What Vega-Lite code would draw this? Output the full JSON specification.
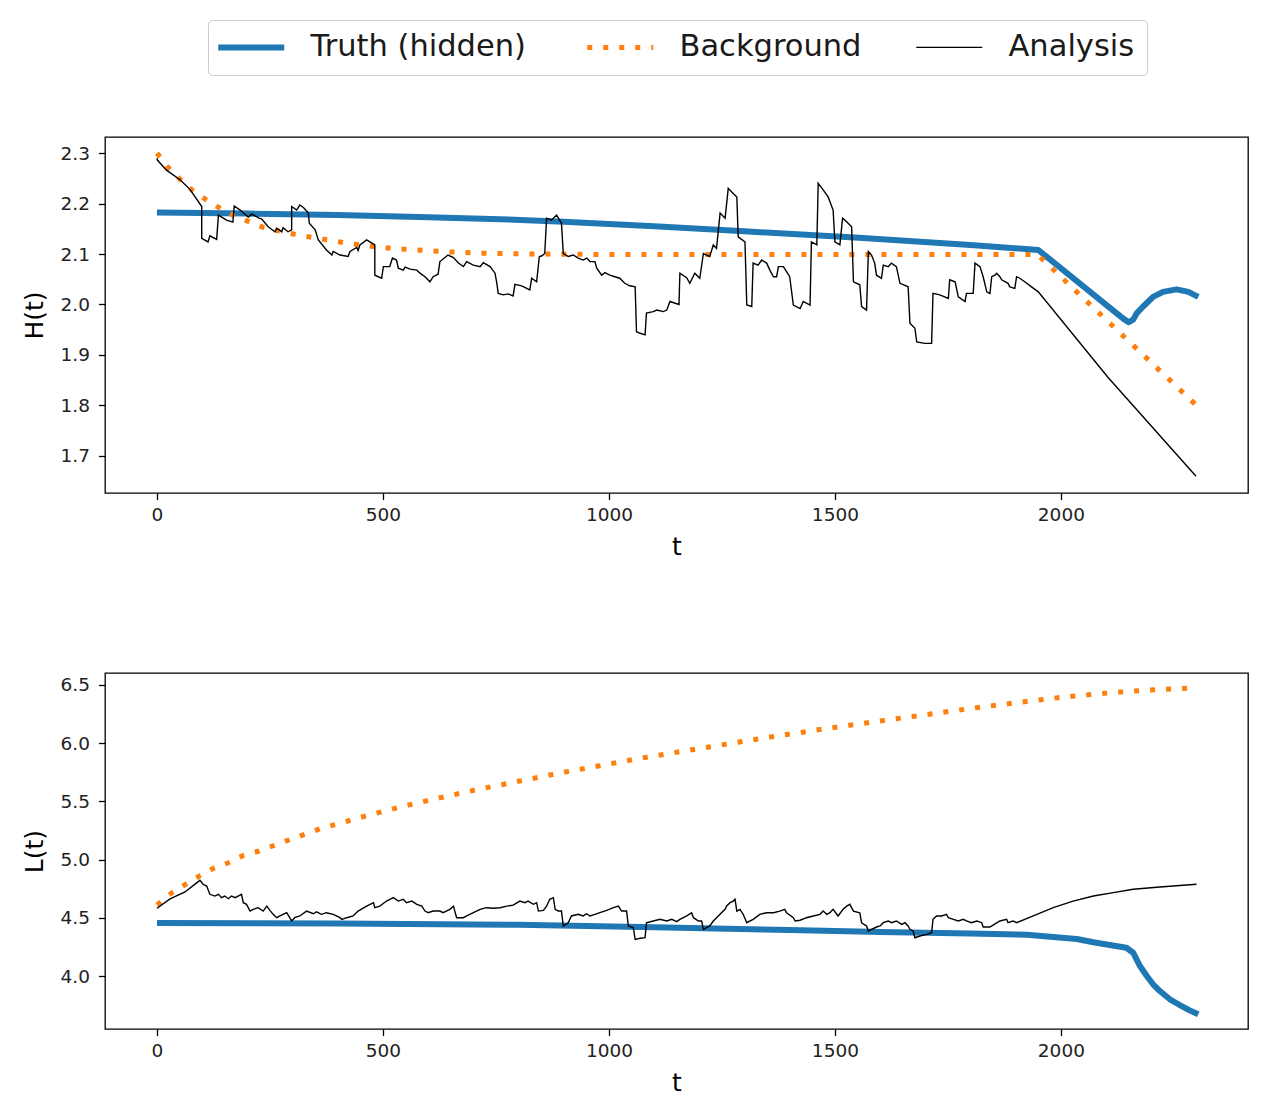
{
  "$schema": "https://vega.github.io/schema/vega-lite/v6.json",
  "background": "white",
  "padding": {"left": 22, "top": 19, "right": 10, "bottom": 10},
  "datasets": {
    "H_T": [
      {"s":"T","t":0,"v":2.182},{"s":"T","t":200,"v":2.18},{"s":"T","t":400,"v":2.177},{"s":"T","t":600,"v":2.173},{"s":"T","t":760,"v":2.169},{"s":"T","t":900,"v":2.164},{"s":"T","t":1100,"v":2.155},{"s":"T","t":1300,"v":2.145},{"s":"T","t":1553,"v":2.132},{"s":"T","t":1800,"v":2.118},{"s":"T","t":1950,"v":2.108},{"s":"T","t":2138,"v":1.972},{"s":"T","t":2150,"v":1.965},{"s":"T","t":2160,"v":1.97},{"s":"T","t":2168,"v":1.983},{"s":"T","t":2182,"v":1.996},{"s":"T","t":2204,"v":2.015},{"s":"T","t":2226,"v":2.025},{"s":"T","t":2256,"v":2.03},{"s":"T","t":2282,"v":2.025},{"s":"T","t":2304,"v":2.015}
    ],
    "H_B": [
      {"s":"B","t":0,"v":2.3},{"s":"B","t":24,"v":2.272},{"s":"B","t":51,"v":2.248},{"s":"B","t":77,"v":2.227},{"s":"B","t":106,"v":2.209},{"s":"B","t":135,"v":2.193},{"s":"B","t":168,"v":2.177},{"s":"B","t":201,"v":2.165},{"s":"B","t":235,"v":2.153},{"s":"B","t":268,"v":2.146},{"s":"B","t":305,"v":2.139},{"s":"B","t":343,"v":2.133},{"s":"B","t":378,"v":2.128},{"s":"B","t":416,"v":2.122},{"s":"B","t":449,"v":2.118},{"s":"B","t":487,"v":2.114},{"s":"B","t":522,"v":2.111},{"s":"B","t":555,"v":2.109},{"s":"B","t":650,"v":2.104},{"s":"B","t":737,"v":2.101},{"s":"B","t":850,"v":2.1},{"s":"B","t":1000,"v":2.099},{"s":"B","t":1948,"v":2.099},{"s":"B","t":2299,"v":1.801}
    ],
    "H_A": [
      {"s":"A","t":0,"v":2.29},{"s":"A","t":1,"v":2.286},{"s":"A","t":21,"v":2.266},{"s":"A","t":51,"v":2.247},{"s":"A","t":73,"v":2.228},{"s":"A","t":99,"v":2.194},{"s":"A","t":99,"v":2.131},{"s":"A","t":113,"v":2.124},{"s":"A","t":117,"v":2.136},{"s":"A","t":132,"v":2.129},{"s":"A","t":136,"v":2.177},{"s":"A","t":154,"v":2.167},{"s":"A","t":168,"v":2.163},{"s":"A","t":171,"v":2.195},{"s":"A","t":184,"v":2.187},{"s":"A","t":202,"v":2.173},{"s":"A","t":210,"v":2.179},{"s":"A","t":226,"v":2.171},{"s":"A","t":232,"v":2.169},{"s":"A","t":246,"v":2.154},{"s":"A","t":261,"v":2.144},{"s":"A","t":265,"v":2.151},{"s":"A","t":276,"v":2.144},{"s":"A","t":279,"v":2.152},{"s":"A","t":290,"v":2.144},{"s":"A","t":298,"v":2.148},{"s":"A","t":298,"v":2.194},{"s":"A","t":309,"v":2.187},{"s":"A","t":316,"v":2.197},{"s":"A","t":324,"v":2.192},{"s":"A","t":335,"v":2.181},{"s":"A","t":337,"v":2.161},{"s":"A","t":350,"v":2.148},{"s":"A","t":357,"v":2.128},{"s":"A","t":375,"v":2.108},{"s":"A","t":387,"v":2.098},{"s":"A","t":390,"v":2.105},{"s":"A","t":405,"v":2.098},{"s":"A","t":423,"v":2.095},{"s":"A","t":427,"v":2.105},{"s":"A","t":442,"v":2.113},{"s":"A","t":445,"v":2.107},{"s":"A","t":449,"v":2.118},{"s":"A","t":464,"v":2.128},{"s":"A","t":471,"v":2.124},{"s":"A","t":482,"v":2.118},{"s":"A","t":482,"v":2.058},{"s":"A","t":497,"v":2.052},{"s":"A","t":501,"v":2.075},{"s":"A","t":515,"v":2.075},{"s":"A","t":521,"v":2.092},{"s":"A","t":530,"v":2.088},{"s":"A","t":534,"v":2.072},{"s":"A","t":545,"v":2.068},{"s":"A","t":549,"v":2.074},{"s":"A","t":560,"v":2.07},{"s":"A","t":575,"v":2.068},{"s":"A","t":582,"v":2.062},{"s":"A","t":593,"v":2.055},{"s":"A","t":604,"v":2.045},{"s":"A","t":611,"v":2.055},{"s":"A","t":622,"v":2.06},{"s":"A","t":626,"v":2.085},{"s":"A","t":633,"v":2.09},{"s":"A","t":644,"v":2.098},{"s":"A","t":656,"v":2.093},{"s":"A","t":667,"v":2.082},{"s":"A","t":678,"v":2.075},{"s":"A","t":685,"v":2.085},{"s":"A","t":700,"v":2.078},{"s":"A","t":715,"v":2.075},{"s":"A","t":722,"v":2.083},{"s":"A","t":737,"v":2.075},{"s":"A","t":748,"v":2.062},{"s":"A","t":752,"v":2.042},{"s":"A","t":755,"v":2.022},{"s":"A","t":766,"v":2.019},{"s":"A","t":777,"v":2.021},{"s":"A","t":788,"v":2.017},{"s":"A","t":792,"v":2.04},{"s":"A","t":807,"v":2.037},{"s":"A","t":825,"v":2.029},{"s":"A","t":829,"v":2.052},{"s":"A","t":840,"v":2.045},{"s":"A","t":846,"v":2.095},{"s":"A","t":851,"v":2.096},{"s":"A","t":858,"v":2.101},{"s":"A","t":862,"v":2.171},{"s":"A","t":873,"v":2.167},{"s":"A","t":884,"v":2.177},{"s":"A","t":895,"v":2.161},{"s":"A","t":899,"v":2.101},{"s":"A","t":910,"v":2.095},{"s":"A","t":921,"v":2.098},{"s":"A","t":932,"v":2.092},{"s":"A","t":943,"v":2.088},{"s":"A","t":951,"v":2.092},{"s":"A","t":958,"v":2.085},{"s":"A","t":969,"v":2.085},{"s":"A","t":973,"v":2.072},{"s":"A","t":984,"v":2.058},{"s":"A","t":991,"v":2.063},{"s":"A","t":1002,"v":2.058},{"s":"A","t":1013,"v":2.055},{"s":"A","t":1024,"v":2.052},{"s":"A","t":1035,"v":2.042},{"s":"A","t":1046,"v":2.037},{"s":"A","t":1058,"v":2.035},{"s":"A","t":1061,"v":1.946},{"s":"A","t":1069,"v":1.943},{"s":"A","t":1080,"v":1.94},{"s":"A","t":1083,"v":1.983},{"s":"A","t":1098,"v":1.986},{"s":"A","t":1106,"v":1.989},{"s":"A","t":1120,"v":1.986},{"s":"A","t":1128,"v":1.989},{"s":"A","t":1135,"v":2.006},{"s":"A","t":1155,"v":2.0},{"s":"A","t":1157,"v":2.062},{"s":"A","t":1172,"v":2.053},{"s":"A","t":1179,"v":2.042},{"s":"A","t":1190,"v":2.062},{"s":"A","t":1201,"v":2.052},{"s":"A","t":1209,"v":2.101},{"s":"A","t":1223,"v":2.095},{"s":"A","t":1231,"v":2.118},{"s":"A","t":1238,"v":2.111},{"s":"A","t":1246,"v":2.181},{"s":"A","t":1257,"v":2.171},{"s":"A","t":1264,"v":2.23},{"s":"A","t":1275,"v":2.22},{"s":"A","t":1283,"v":2.213},{"s":"A","t":1286,"v":2.134},{"s":"A","t":1301,"v":2.124},{"s":"A","t":1305,"v":1.999},{"s":"A","t":1316,"v":1.996},{"s":"A","t":1319,"v":2.082},{"s":"A","t":1330,"v":2.078},{"s":"A","t":1338,"v":2.088},{"s":"A","t":1349,"v":2.082},{"s":"A","t":1356,"v":2.068},{"s":"A","t":1364,"v":2.055},{"s":"A","t":1371,"v":2.055},{"s":"A","t":1375,"v":2.075},{"s":"A","t":1386,"v":2.075},{"s":"A","t":1393,"v":2.065},{"s":"A","t":1400,"v":2.055},{"s":"A","t":1408,"v":1.999},{"s":"A","t":1423,"v":1.992},{"s":"A","t":1430,"v":2.006},{"s":"A","t":1445,"v":1.999},{"s":"A","t":1448,"v":2.124},{"s":"A","t":1460,"v":2.118},{"s":"A","t":1463,"v":2.24},{"s":"A","t":1474,"v":2.227},{"s":"A","t":1485,"v":2.213},{"s":"A","t":1496,"v":2.187},{"s":"A","t":1500,"v":2.124},{"s":"A","t":1511,"v":2.118},{"s":"A","t":1517,"v":2.171},{"s":"A","t":1526,"v":2.164},{"s":"A","t":1537,"v":2.154},{"s":"A","t":1541,"v":2.045},{"s":"A","t":1555,"v":2.039},{"s":"A","t":1559,"v":1.996},{"s":"A","t":1570,"v":1.989},{"s":"A","t":1574,"v":2.105},{"s":"A","t":1581,"v":2.098},{"s":"A","t":1588,"v":2.082},{"s":"A","t":1592,"v":2.058},{"s":"A","t":1603,"v":2.052},{"s":"A","t":1607,"v":2.078},{"s":"A","t":1618,"v":2.075},{"s":"A","t":1625,"v":2.082},{"s":"A","t":1636,"v":2.075},{"s":"A","t":1644,"v":2.042},{"s":"A","t":1662,"v":2.035},{"s":"A","t":1666,"v":1.963},{"s":"A","t":1677,"v":1.953},{"s":"A","t":1681,"v":1.926},{"s":"A","t":1699,"v":1.923},{"s":"A","t":1714,"v":1.923},{"s":"A","t":1717,"v":2.022},{"s":"A","t":1732,"v":2.019},{"s":"A","t":1751,"v":2.012},{"s":"A","t":1754,"v":2.049},{"s":"A","t":1766,"v":2.045},{"s":"A","t":1773,"v":2.015},{"s":"A","t":1788,"v":2.006},{"s":"A","t":1791,"v":2.022},{"s":"A","t":1806,"v":2.022},{"s":"A","t":1810,"v":2.082},{"s":"A","t":1821,"v":2.075},{"s":"A","t":1828,"v":2.055},{"s":"A","t":1836,"v":2.025},{"s":"A","t":1843,"v":2.022},{"s":"A","t":1847,"v":2.055},{"s":"A","t":1854,"v":2.058},{"s":"A","t":1858,"v":2.062},{"s":"A","t":1865,"v":2.055},{"s":"A","t":1869,"v":2.049},{"s":"A","t":1883,"v":2.042},{"s":"A","t":1887,"v":2.035},{"s":"A","t":1898,"v":2.032},{"s":"A","t":1902,"v":2.055},{"s":"A","t":1909,"v":2.052},{"s":"A","t":1920,"v":2.045},{"s":"A","t":1935,"v":2.035},{"s":"A","t":1950,"v":2.025},{"s":"A","t":2104,"v":1.856},{"s":"A","t":2299,"v":1.66}
    ],
    "L_T": [
      {"s":"T","t":0,"v":4.455},{"s":"T","t":400,"v":4.452},{"s":"T","t":800,"v":4.44},{"s":"T","t":1100,"v":4.42},{"s":"T","t":1400,"v":4.395},{"s":"T","t":1600,"v":4.378},{"s":"T","t":1800,"v":4.365},{"s":"T","t":1925,"v":4.355},{"s":"T","t":2035,"v":4.318},{"s":"T","t":2072,"v":4.29},{"s":"T","t":2108,"v":4.266},{"s":"T","t":2145,"v":4.243},{"s":"T","t":2160,"v":4.2},{"s":"T","t":2175,"v":4.086},{"s":"T","t":2190,"v":4.0},{"s":"T","t":2204,"v":3.929},{"s":"T","t":2219,"v":3.871},{"s":"T","t":2241,"v":3.8},{"s":"T","t":2263,"v":3.751},{"s":"T","t":2285,"v":3.705},{"s":"T","t":2304,"v":3.671}
    ],
    "L_B": [
      {"s":"B","t":0,"v":4.61},{"s":"B","t":33,"v":4.716},{"s":"B","t":63,"v":4.788},{"s":"B","t":94,"v":4.86},{"s":"B","t":125,"v":4.925},{"s":"B","t":158,"v":4.973},{"s":"B","t":191,"v":5.036},{"s":"B","t":226,"v":5.074},{"s":"B","t":280,"v":5.152},{"s":"B","t":361,"v":5.265},{"s":"B","t":450,"v":5.362},{"s":"B","t":538,"v":5.452},{"s":"B","t":620,"v":5.526},{"s":"B","t":711,"v":5.604},{"s":"B","t":800,"v":5.673},{"s":"B","t":888,"v":5.741},{"s":"B","t":980,"v":5.807},{"s":"B","t":1069,"v":5.87},{"s":"B","t":1170,"v":5.935},{"s":"B","t":1279,"v":6.004},{"s":"B","t":1365,"v":6.058},{"s":"B","t":1456,"v":6.111},{"s":"B","t":1546,"v":6.161},{"s":"B","t":1636,"v":6.21},{"s":"B","t":1725,"v":6.258},{"s":"B","t":1813,"v":6.305},{"s":"B","t":1904,"v":6.349},{"s":"B","t":1994,"v":6.391},{"s":"B","t":2066,"v":6.418},{"s":"B","t":2138,"v":6.442},{"s":"B","t":2210,"v":6.459},{"s":"B","t":2282,"v":6.472},{"s":"B","t":2300,"v":6.474}
    ],
    "L_A": [
      {"s":"A","t":0,"v":4.582},{"s":"A","t":29,"v":4.662},{"s":"A","t":62,"v":4.722},{"s":"A","t":95,"v":4.822},{"s":"A","t":102,"v":4.788},{"s":"A","t":110,"v":4.773},{"s":"A","t":117,"v":4.702},{"s":"A","t":128,"v":4.687},{"s":"A","t":136,"v":4.702},{"s":"A","t":143,"v":4.673},{"s":"A","t":150,"v":4.687},{"s":"A","t":158,"v":4.664},{"s":"A","t":165,"v":4.687},{"s":"A","t":173,"v":4.673},{"s":"A","t":187,"v":4.702},{"s":"A","t":191,"v":4.63},{"s":"A","t":198,"v":4.616},{"s":"A","t":206,"v":4.558},{"s":"A","t":213,"v":4.573},{"s":"A","t":224,"v":4.587},{"s":"A","t":235,"v":4.558},{"s":"A","t":243,"v":4.6},{"s":"A","t":250,"v":4.564},{"s":"A","t":257,"v":4.53},{"s":"A","t":265,"v":4.501},{"s":"A","t":272,"v":4.516},{"s":"A","t":287,"v":4.544},{"s":"A","t":298,"v":4.473},{"s":"A","t":305,"v":4.501},{"s":"A","t":316,"v":4.516},{"s":"A","t":331,"v":4.558},{"s":"A","t":346,"v":4.535},{"s":"A","t":353,"v":4.552},{"s":"A","t":364,"v":4.53},{"s":"A","t":375,"v":4.544},{"s":"A","t":390,"v":4.53},{"s":"A","t":405,"v":4.501},{"s":"A","t":409,"v":4.487},{"s":"A","t":420,"v":4.501},{"s":"A","t":434,"v":4.516},{"s":"A","t":445,"v":4.558},{"s":"A","t":464,"v":4.6},{"s":"A","t":479,"v":4.63},{"s":"A","t":482,"v":4.587},{"s":"A","t":493,"v":4.6},{"s":"A","t":508,"v":4.644},{"s":"A","t":523,"v":4.673},{"s":"A","t":534,"v":4.644},{"s":"A","t":545,"v":4.659},{"s":"A","t":552,"v":4.63},{"s":"A","t":564,"v":4.644},{"s":"A","t":575,"v":4.616},{"s":"A","t":586,"v":4.6},{"s":"A","t":593,"v":4.558},{"s":"A","t":600,"v":4.544},{"s":"A","t":611,"v":4.558},{"s":"A","t":626,"v":4.558},{"s":"A","t":633,"v":4.544},{"s":"A","t":648,"v":4.573},{"s":"A","t":656,"v":4.6},{"s":"A","t":663,"v":4.501},{"s":"A","t":678,"v":4.501},{"s":"A","t":685,"v":4.516},{"s":"A","t":700,"v":4.544},{"s":"A","t":715,"v":4.573},{"s":"A","t":729,"v":4.587},{"s":"A","t":744,"v":4.582},{"s":"A","t":759,"v":4.587},{"s":"A","t":774,"v":4.6},{"s":"A","t":788,"v":4.609},{"s":"A","t":803,"v":4.644},{"s":"A","t":814,"v":4.63},{"s":"A","t":821,"v":4.644},{"s":"A","t":833,"v":4.616},{"s":"A","t":840,"v":4.63},{"s":"A","t":844,"v":4.558},{"s":"A","t":855,"v":4.564},{"s":"A","t":862,"v":4.6},{"s":"A","t":869,"v":4.659},{"s":"A","t":877,"v":4.673},{"s":"A","t":881,"v":4.573},{"s":"A","t":888,"v":4.558},{"s":"A","t":895,"v":4.558},{"s":"A","t":899,"v":4.43},{"s":"A","t":910,"v":4.458},{"s":"A","t":917,"v":4.516},{"s":"A","t":932,"v":4.53},{"s":"A","t":943,"v":4.516},{"s":"A","t":951,"v":4.535},{"s":"A","t":958,"v":4.516},{"s":"A","t":969,"v":4.53},{"s":"A","t":980,"v":4.544},{"s":"A","t":995,"v":4.564},{"s":"A","t":1010,"v":4.587},{"s":"A","t":1021,"v":4.6},{"s":"A","t":1028,"v":4.558},{"s":"A","t":1039,"v":4.558},{"s":"A","t":1043,"v":4.43},{"s":"A","t":1054,"v":4.415},{"s":"A","t":1058,"v":4.315},{"s":"A","t":1069,"v":4.324},{"s":"A","t":1080,"v":4.329},{"s":"A","t":1083,"v":4.458},{"s":"A","t":1098,"v":4.473},{"s":"A","t":1113,"v":4.487},{"s":"A","t":1128,"v":4.473},{"s":"A","t":1139,"v":4.487},{"s":"A","t":1150,"v":4.467},{"s":"A","t":1157,"v":4.487},{"s":"A","t":1172,"v":4.516},{"s":"A","t":1183,"v":4.544},{"s":"A","t":1187,"v":4.501},{"s":"A","t":1198,"v":4.473},{"s":"A","t":1205,"v":4.473},{"s":"A","t":1209,"v":4.401},{"s":"A","t":1223,"v":4.43},{"s":"A","t":1231,"v":4.473},{"s":"A","t":1242,"v":4.516},{"s":"A","t":1249,"v":4.544},{"s":"A","t":1257,"v":4.573},{"s":"A","t":1260,"v":4.6},{"s":"A","t":1268,"v":4.63},{"s":"A","t":1275,"v":4.644},{"s":"A","t":1279,"v":4.659},{"s":"A","t":1283,"v":4.558},{"s":"A","t":1290,"v":4.573},{"s":"A","t":1297,"v":4.53},{"s":"A","t":1305,"v":4.458},{"s":"A","t":1319,"v":4.487},{"s":"A","t":1334,"v":4.53},{"s":"A","t":1349,"v":4.544},{"s":"A","t":1364,"v":4.544},{"s":"A","t":1378,"v":4.558},{"s":"A","t":1389,"v":4.573},{"s":"A","t":1393,"v":4.544},{"s":"A","t":1408,"v":4.501},{"s":"A","t":1412,"v":4.473},{"s":"A","t":1423,"v":4.479},{"s":"A","t":1437,"v":4.501},{"s":"A","t":1452,"v":4.516},{"s":"A","t":1467,"v":4.53},{"s":"A","t":1474,"v":4.558},{"s":"A","t":1482,"v":4.53},{"s":"A","t":1489,"v":4.544},{"s":"A","t":1496,"v":4.573},{"s":"A","t":1507,"v":4.516},{"s":"A","t":1518,"v":4.573},{"s":"A","t":1526,"v":4.6},{"s":"A","t":1533,"v":4.616},{"s":"A","t":1541,"v":4.558},{"s":"A","t":1555,"v":4.544},{"s":"A","t":1559,"v":4.458},{"s":"A","t":1570,"v":4.43},{"s":"A","t":1574,"v":4.387},{"s":"A","t":1592,"v":4.421},{"s":"A","t":1600,"v":4.43},{"s":"A","t":1607,"v":4.458},{"s":"A","t":1618,"v":4.473},{"s":"A","t":1625,"v":4.458},{"s":"A","t":1636,"v":4.473},{"s":"A","t":1648,"v":4.444},{"s":"A","t":1655,"v":4.458},{"s":"A","t":1662,"v":4.43},{"s":"A","t":1666,"v":4.401},{"s":"A","t":1673,"v":4.387},{"s":"A","t":1677,"v":4.329},{"s":"A","t":1688,"v":4.344},{"s":"A","t":1703,"v":4.358},{"s":"A","t":1714,"v":4.372},{"s":"A","t":1717,"v":4.487},{"s":"A","t":1725,"v":4.516},{"s":"A","t":1736,"v":4.516},{"s":"A","t":1747,"v":4.53},{"s":"A","t":1751,"v":4.501},{"s":"A","t":1762,"v":4.487},{"s":"A","t":1773,"v":4.473},{"s":"A","t":1784,"v":4.487},{"s":"A","t":1791,"v":4.473},{"s":"A","t":1802,"v":4.458},{"s":"A","t":1814,"v":4.473},{"s":"A","t":1825,"v":4.458},{"s":"A","t":1828,"v":4.421},{"s":"A","t":1843,"v":4.421},{"s":"A","t":1850,"v":4.438},{"s":"A","t":1865,"v":4.473},{"s":"A","t":1880,"v":4.487},{"s":"A","t":1883,"v":4.458},{"s":"A","t":1894,"v":4.473},{"s":"A","t":1902,"v":4.458},{"s":"A","t":1939,"v":4.516},{"s":"A","t":1983,"v":4.587},{"s":"A","t":2027,"v":4.644},{"s":"A","t":2072,"v":4.687},{"s":"A","t":2116,"v":4.716},{"s":"A","t":2160,"v":4.745},{"s":"A","t":2219,"v":4.765},{"s":"A","t":2300,"v":4.788}
    ]
  },
  "spacing": 112,
  "vconcat": [
    {
      "width": 1143,
      "height": 356,
      "encoding": {
        "x": {"field": "t", "type": "quantitative", "scale": {"domain": [-115, 2414], "nice": false, "zero": false}, "axis": {"values": [0, 500, 1000, 1500, 2000], "format": "d", "title": "t"}},
        "y": {"field": "v", "type": "quantitative", "scale": {"domain": [1.6267, 2.3317], "nice": false, "zero": false}, "axis": {"values": [1.7, 1.8, 1.9, 2.0, 2.1, 2.2, 2.3], "format": ".1f", "title": "H(t)"}},
        "color": {
          "field": "s", "type": "nominal",
          "scale": {"domain": ["T", "B", "A"], "range": ["#1f77b4", "#ff7f0e", "#000000"]},
          "legend": {
            "labelExpr": "datum.label == 'T' ? 'Truth (hidden)' : datum.label == 'B' ? 'Background' : 'Analysis'",
            "encode": {"symbols": {"update": {
              "strokeWidth": {"signal": "datum.value == 'T' ? 6 : datum.value == 'B' ? 5 : 1.4"},
              "strokeDash": {"signal": "datum.value == 'B' ? [5, 11] : [1, 0]"},
              "strokeCap": {"value": "butt"},
              "fill": {"value": "transparent"}
            }}}
          }
        },
        "order": {"value": null}
      },
      "layer": [
        {"data": {"name": "H_T"}, "mark": {"type": "line", "strokeWidth": 6, "strokeCap": "butt", "strokeJoin": "round"}},
        {"data": {"name": "H_B"}, "mark": {"type": "line", "strokeWidth": 5, "strokeDash": [5, 11], "strokeCap": "butt"}},
        {"data": {"name": "H_A"}, "mark": {"type": "line", "strokeWidth": 1.4, "strokeJoin": "miter"}}
      ]
    },
    {
      "width": 1143,
      "height": 356,
      "encoding": {
        "x": {"field": "t", "type": "quantitative", "scale": {"domain": [-115, 2414], "nice": false, "zero": false}, "axis": {"values": [0, 500, 1000, 1500, 2000], "format": "d", "title": "t"}},
        "y": {"field": "v", "type": "quantitative", "scale": {"domain": [3.545, 6.603], "nice": false, "zero": false}, "axis": {"values": [4.0, 4.5, 5.0, 5.5, 6.0, 6.5], "format": ".1f", "title": "L(t)"}},
        "color": {
          "field": "s", "type": "nominal",
          "scale": {"domain": ["T", "B", "A"], "range": ["#1f77b4", "#ff7f0e", "#000000"]},
          "legend": {
            "labelExpr": "datum.label == 'T' ? 'Truth (hidden)' : datum.label == 'B' ? 'Background' : 'Analysis'",
            "encode": {"symbols": {"update": {
              "strokeWidth": {"signal": "datum.value == 'T' ? 6 : datum.value == 'B' ? 5 : 1.4"},
              "strokeDash": {"signal": "datum.value == 'B' ? [5, 11] : [1, 0]"},
              "strokeCap": {"value": "butt"},
              "fill": {"value": "transparent"}
            }}}
          }
        },
        "order": {"value": null}
      },
      "layer": [
        {"data": {"name": "L_T"}, "mark": {"type": "line", "strokeWidth": 6, "strokeCap": "butt", "strokeJoin": "round"}},
        {"data": {"name": "L_B"}, "mark": {"type": "line", "strokeWidth": 5, "strokeDash": [5, 11], "strokeCap": "butt"}},
        {"data": {"name": "L_A"}, "mark": {"type": "line", "strokeWidth": 1.4, "strokeJoin": "miter"}}
      ]
    }
  ],
  "config": {
    "font": "DejaVu Sans",
    "view": {"stroke": "#000000", "strokeWidth": 1.3},
    "axis": {
      "domain": false,
      "grid": false,
      "ticks": true,
      "tickSize": 6.6,
      "tickWidth": 1.3,
      "tickColor": "#000000",
      "labelFont": "DejaVu Sans",
      "labelFontSize": 18.5,
      "labelColor": "#222222",
      "labelPadding": 9,
      "titleFont": "DejaVu Sans",
      "titleFontSize": 25,
      "titleFontWeight": "normal",
      "titleColor": "#000000"
    },
    "axisX": {"labelPadding": 6, "titlePadding": 10},
    "axisY": {"titlePadding": 12},
    "legend": {
      "orient": "none",
      "legendX": 103,
      "legendY": -117,
      "direction": "horizontal",
      "columns": 3,
      "title": null,
      "symbolType": "M-1.65,0H1.65",
      "symbolSize": 1600,
      "symbolOffset": 16,
      "symbolFillColor": "transparent",
      "labelOffset": 44,
      "labelFont": "DejaVu Sans",
      "labelFontSize": 30.5,
      "labelColor": "#1a1a1a",
      "labelLimit": 400,
      "columnPadding": 51,
      "padding": 12,
      "strokeColor": "#cccccc",
      "fillColor": "white",
      "cornerRadius": 4
    }
  }
}
